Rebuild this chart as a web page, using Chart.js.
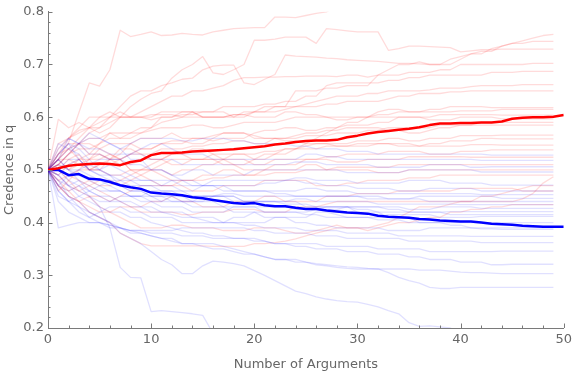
<!DOCTYPE html>
<html><head><meta charset="utf-8">
<script src="https://cdn.jsdelivr.net/npm/chart.js@4/dist/chart.umd.min.js"></script>
<style>html,body{margin:0;padding:0;background:#fff;}#wrap{width:576px;height:373px;}</style>
</head><body><div id="wrap"><canvas id="c" width="576" height="373"></canvas></div>
<script>
// ---- axis settings / tick labels ----
const xRange = [0, 50];
const yRange = [0.2, 0.8];
const xMajorTicks = [0, 10, 20, 30, 40, 50];
const yMajorTicks = ["0.2", "0.3", "0.4", "0.5", "0.6", "0.7", "0.8"];
const xTitle = "Number of Arguments";
const yTitle = "Credence in q";

// ---- mean series (x = 0..50) ----
const meanRed = [0.5,0.503,0.508,0.510,0.511,0.512,0.511,0.509,0.515,0.518,
 0.528,0.532,0.532,0.533,0.535,0.536,0.537,0.538,0.539,0.541,
 0.543,0.545,0.548,0.550,0.553,0.555,0.556,0.556,0.557,0.562,
 0.565,0.569,0.572,0.574,0.576,0.578,0.581,0.585,0.588,0.588,
 0.589,0.589,0.590,0.590,0.592,0.597,0.599,0.600,0.600,0.601,0.604];
const meanBlue = [0.5,0.5,0.490,0.492,0.483,0.482,0.477,0.471,0.467,0.464,
 0.457,0.455,0.454,0.452,0.448,0.446,0.443,0.440,0.437,0.436,
 0.437,0.433,0.431,0.431,0.428,0.426,0.426,0.423,0.421,0.419,
 0.418,0.417,0.413,0.411,0.410,0.409,0.407,0.406,0.404,0.403,
 0.402,0.402,0.400,0.398,0.397,0.396,0.394,0.393,0.392,0.392,0.392];

// ---- individual red runs (x = 0..49) ----
const red01 = [0.5,0.52,0.552,0.609,0.665,0.659,0.69,0.765,0.753,0.757,0.762,0.755,0.756,0.759,0.757,0.756,0.762,0.765,0.768,0.769,0.77,0.77,0.79,0.79,0.789,0.793,0.797,0.8,0.81,0.82,0.82,0.83,0.83,0.84,0.84,0.84,0.85,0.85,0.85,0.86,0.86,0.86,0.86,0.87,0.87,0.87,0.87,0.87,0.87,0.87];
const red02 = [0.5,0.53,0.56,0.58,0.6,0.6,0.61,0.6,0.62,0.634,0.645,0.65,0.674,0.69,0.70,0.715,0.684,0.681,0.69,0.70,0.746,0.746,0.748,0.752,0.752,0.752,0.74,0.768,0.766,0.764,0.762,0.762,0.762,0.727,0.73,0.735,0.735,0.734,0.733,0.732,0.724,0.726,0.728,0.728,0.729,0.729,0.729,0.729,0.729,0.729];
const red03 = [0.5,0.54,0.56,0.575,0.58,0.6,0.6,0.62,0.64,0.65,0.65,0.66,0.665,0.672,0.674,0.69,0.697,0.699,0.699,0.665,0.662,0.672,0.681,0.718,0.716,0.715,0.714,0.712,0.711,0.709,0.708,0.707,0.706,0.704,0.702,0.702,0.701,0.70,0.70,0.70,0.71,0.72,0.725,0.725,0.735,0.74,0.74,0.744,0.744,0.744];
const red04 = [0.5,0.51,0.53,0.55,0.57,0.58,0.59,0.6,0.6,0.61,0.62,0.63,0.64,0.64,0.65,0.65,0.655,0.66,0.67,0.675,0.675,0.676,0.676,0.677,0.677,0.678,0.678,0.678,0.677,0.68,0.68,0.676,0.68,0.69,0.70,0.70,0.705,0.70,0.70,0.71,0.715,0.72,0.72,0.73,0.735,0.74,0.745,0.75,0.755,0.757];
const red05 = [0.5,0.55,0.56,0.57,0.58,0.57,0.58,0.6,0.6,0.6,0.6,0.61,0.61,0.61,0.61,0.6,0.6,0.6,0.6,0.61,0.61,0.62,0.62,0.62,0.65,0.65,0.65,0.655,0.655,0.66,0.66,0.66,0.68,0.68,0.68,0.685,0.685,0.685,0.69,0.69,0.7,0.7,0.7,0.7,0.7,0.7,0.7,0.702,0.702,0.702];
const red06 = [0.5,0.52,0.54,0.56,0.58,0.59,0.6,0.6,0.6,0.6,0.605,0.605,0.605,0.6,0.61,0.61,0.61,0.62,0.62,0.62,0.62,0.625,0.625,0.63,0.63,0.64,0.64,0.66,0.665,0.665,0.665,0.665,0.665,0.67,0.67,0.675,0.675,0.68,0.68,0.68,0.68,0.68,0.68,0.685,0.685,0.685,0.687,0.687,0.687,0.687];
const red07 = [0.5,0.49,0.51,0.52,0.53,0.55,0.56,0.56,0.57,0.57,0.58,0.59,0.595,0.6,0.6,0.6,0.6,0.6,0.605,0.605,0.61,0.61,0.61,0.615,0.62,0.625,0.63,0.635,0.64,0.64,0.64,0.645,0.645,0.65,0.65,0.65,0.65,0.652,0.655,0.655,0.655,0.658,0.66,0.66,0.66,0.66,0.662,0.662,0.662,0.662];
const red08 = [0.5,0.53,0.55,0.55,0.56,0.56,0.57,0.57,0.57,0.58,0.58,0.6,0.6,0.605,0.605,0.61,0.61,0.61,0.6,0.6,0.61,0.61,0.62,0.62,0.62,0.62,0.62,0.625,0.625,0.63,0.63,0.63,0.63,0.635,0.64,0.64,0.645,0.645,0.645,0.648,0.648,0.65,0.65,0.65,0.65,0.65,0.65,0.65,0.65,0.65];
const red09 = [0.5,0.596,0.58,0.59,0.58,0.58,0.6,0.61,0.6,0.6,0.595,0.6,0.6,0.61,0.61,0.6,0.6,0.6,0.605,0.605,0.6,0.6,0.6,0.61,0.61,0.605,0.605,0.6,0.6,0.6,0.6,0.6,0.61,0.615,0.615,0.61,0.61,0.615,0.615,0.62,0.62,0.62,0.62,0.618,0.618,0.618,0.618,0.618,0.618,0.618];
const red10 = [0.5,0.51,0.53,0.54,0.54,0.55,0.57,0.56,0.56,0.57,0.575,0.58,0.58,0.58,0.585,0.585,0.58,0.58,0.585,0.59,0.59,0.59,0.59,0.595,0.6,0.6,0.6,0.6,0.595,0.595,0.6,0.6,0.6,0.6,0.6,0.6,0.6,0.6,0.605,0.605,0.605,0.605,0.605,0.605,0.604,0.604,0.604,0.604,0.604,0.604];
const red11 = [0.5,0.48,0.49,0.5,0.52,0.52,0.53,0.52,0.53,0.54,0.54,0.55,0.55,0.55,0.56,0.56,0.555,0.56,0.56,0.56,0.57,0.575,0.575,0.58,0.58,0.575,0.575,0.58,0.58,0.585,0.585,0.585,0.59,0.59,0.6,0.6,0.6,0.595,0.595,0.595,0.6,0.6,0.6,0.6,0.597,0.597,0.597,0.597,0.597,0.597];
const red12 = [0.5,0.52,0.5,0.51,0.52,0.53,0.52,0.53,0.55,0.56,0.56,0.56,0.57,0.56,0.56,0.56,0.565,0.57,0.57,0.57,0.565,0.56,0.56,0.56,0.565,0.57,0.57,0.575,0.575,0.58,0.58,0.58,0.58,0.575,0.575,0.57,0.57,0.575,0.58,0.58,0.585,0.585,0.59,0.59,0.59,0.59,0.59,0.59,0.59,0.59];
const red13 = [0.5,0.46,0.48,0.5,0.5,0.51,0.51,0.52,0.53,0.53,0.53,0.54,0.54,0.54,0.545,0.545,0.55,0.55,0.555,0.555,0.55,0.55,0.56,0.56,0.56,0.565,0.565,0.565,0.57,0.57,0.57,0.575,0.575,0.58,0.58,0.58,0.58,0.58,0.585,0.585,0.585,0.585,0.585,0.585,0.585,0.585,0.585,0.585,0.585,0.585];
const red14 = [0.5,0.5,0.52,0.53,0.5,0.51,0.52,0.52,0.5,0.5,0.51,0.52,0.53,0.53,0.54,0.54,0.53,0.52,0.53,0.53,0.53,0.535,0.535,0.54,0.54,0.545,0.55,0.55,0.55,0.55,0.555,0.555,0.555,0.56,0.56,0.555,0.555,0.56,0.56,0.56,0.565,0.565,0.565,0.565,0.566,0.566,0.566,0.566,0.566,0.566];
const red15 = [0.5,0.47,0.46,0.47,0.48,0.47,0.47,0.48,0.49,0.5,0.5,0.51,0.52,0.52,0.52,0.52,0.53,0.53,0.53,0.53,0.52,0.53,0.53,0.54,0.54,0.54,0.54,0.545,0.545,0.545,0.55,0.55,0.55,0.55,0.545,0.545,0.545,0.55,0.55,0.555,0.555,0.555,0.56,0.56,0.559,0.559,0.559,0.559,0.559,0.559];
const red16 = [0.5,0.51,0.5,0.52,0.52,0.54,0.55,0.55,0.55,0.54,0.54,0.55,0.555,0.555,0.55,0.55,0.56,0.57,0.57,0.57,0.56,0.56,0.56,0.555,0.555,0.55,0.55,0.55,0.545,0.545,0.545,0.545,0.55,0.55,0.55,0.55,0.545,0.545,0.545,0.545,0.545,0.548,0.548,0.548,0.547,0.547,0.547,0.547,0.547,0.547];
const red17 = [0.5,0.49,0.47,0.46,0.47,0.48,0.48,0.47,0.48,0.49,0.5,0.5,0.49,0.5,0.5,0.51,0.51,0.52,0.52,0.52,0.51,0.51,0.52,0.52,0.52,0.52,0.52,0.525,0.525,0.53,0.53,0.53,0.53,0.535,0.535,0.535,0.535,0.53,0.53,0.53,0.535,0.535,0.535,0.538,0.538,0.538,0.538,0.538,0.538,0.538];
const red18 = [0.5,0.52,0.54,0.55,0.53,0.53,0.52,0.51,0.51,0.52,0.52,0.52,0.53,0.53,0.52,0.52,0.52,0.51,0.51,0.5,0.5,0.5,0.51,0.51,0.51,0.52,0.52,0.52,0.515,0.515,0.515,0.52,0.52,0.52,0.52,0.525,0.525,0.525,0.525,0.525,0.525,0.524,0.524,0.524,0.524,0.524,0.524,0.524,0.524,0.524];
const red19 = [0.5,0.5,0.48,0.46,0.45,0.45,0.44,0.45,0.46,0.47,0.47,0.47,0.47,0.48,0.48,0.48,0.485,0.485,0.49,0.49,0.49,0.49,0.495,0.495,0.495,0.5,0.5,0.5,0.505,0.505,0.505,0.505,0.505,0.505,0.51,0.51,0.51,0.51,0.51,0.51,0.51,0.51,0.51,0.51,0.51,0.51,0.51,0.51,0.51,0.51];
const red20 = [0.5,0.47,0.45,0.44,0.43,0.42,0.42,0.43,0.43,0.42,0.42,0.42,0.42,0.415,0.415,0.42,0.42,0.42,0.425,0.425,0.425,0.42,0.42,0.42,0.43,0.43,0.43,0.435,0.44,0.44,0.44,0.44,0.44,0.44,0.44,0.44,0.44,0.44,0.44,0.44,0.44,0.44,0.44,0.44,0.44,0.44,0.445,0.455,0.475,0.487];
const red21 = [0.5,0.53,0.54,0.52,0.5,0.5,0.49,0.49,0.5,0.5,0.5,0.49,0.48,0.48,0.48,0.49,0.49,0.5,0.5,0.49,0.49,0.5,0.5,0.5,0.5,0.51,0.51,0.5,0.5,0.5,0.5,0.5,0.495,0.495,0.495,0.5,0.5,0.5,0.5,0.5,0.5,0.5,0.5,0.5,0.5,0.5,0.5,0.5,0.5,0.5];
const red22 = [0.5,0.48,0.46,0.44,0.42,0.41,0.4,0.38,0.37,0.36,0.356,0.356,0.356,0.356,0.356,0.356,0.355,0.355,0.355,0.355,0.36,0.36,0.362,0.365,0.369,0.375,0.38,0.385,0.39,0.39,0.39,0.39,0.395,0.4,0.41,0.42,0.43,0.43,0.43,0.435,0.44,0.44,0.45,0.45,0.455,0.46,0.465,0.47,0.47,0.47];
const red23 = [0.5,0.47,0.45,0.44,0.45,0.43,0.42,0.41,0.4,0.39,0.39,0.39,0.395,0.395,0.39,0.39,0.39,0.385,0.385,0.385,0.39,0.39,0.39,0.385,0.38,0.38,0.385,0.39,0.395,0.39,0.39,0.385,0.39,0.395,0.4,0.4,0.405,0.41,0.41,0.42,0.42,0.425,0.425,0.43,0.43,0.434,0.434,0.434,0.434,0.434];
const red24 = [0.5,0.5,0.49,0.48,0.47,0.46,0.45,0.44,0.43,0.43,0.44,0.44,0.45,0.44,0.44,0.43,0.43,0.43,0.44,0.44,0.44,0.45,0.45,0.44,0.44,0.44,0.44,0.45,0.45,0.45,0.455,0.455,0.455,0.455,0.46,0.46,0.46,0.46,0.46,0.46,0.465,0.465,0.465,0.465,0.465,0.465,0.46,0.46,0.46,0.46];
const red25 = [0.5,0.51,0.53,0.55,0.55,0.54,0.53,0.52,0.5,0.49,0.48,0.47,0.47,0.47,0.46,0.46,0.46,0.47,0.47,0.47,0.47,0.48,0.48,0.48,0.48,0.48,0.47,0.47,0.47,0.475,0.475,0.48,0.48,0.48,0.48,0.485,0.485,0.485,0.49,0.49,0.49,0.49,0.49,0.49,0.49,0.49,0.49,0.49,0.49,0.49];
const red26 = [0.5,0.52,0.52,0.51,0.5,0.5,0.52,0.54,0.54,0.53,0.52,0.52,0.51,0.51,0.52,0.52,0.52,0.52,0.51,0.51,0.52,0.52,0.53,0.53,0.54,0.55,0.56,0.57,0.58,0.59,0.59,0.6,0.605,0.605,0.61,0.61,0.61,0.61,0.61,0.61,0.612,0.612,0.612,0.612,0.615,0.615,0.615,0.615,0.615,0.615];

// ---- individual blue runs (x = 0..49) ----
const blue01 = [0.5,0.39,0.395,0.4,0.4,0.4,0.395,0.39,0.385,0.385,0.385,0.385,0.385,0.39,0.39,0.39,0.39,0.39,0.39,0.39,0.385,0.385,0.38,0.38,0.38,0.38,0.375,0.375,0.375,0.37,0.37,0.37,0.37,0.37,0.37,0.365,0.365,0.365,0.365,0.365,0.365,0.365,0.362,0.362,0.362,0.362,0.362,0.362,0.362,0.362];
const blue02 = [0.5,0.48,0.47,0.46,0.45,0.43,0.39,0.315,0.296,0.295,0.231,0.233,0.231,0.229,0.227,0.224,0.19,0.18,0.18,0.17,0.17,0.17,0.16,0.16,0.16,0.15,0.15,0.15,0.15,0.15,0.15,0.14,0.14,0.14,0.14,0.14,0.14,0.14,0.14,0.14,0.13,0.13,0.13,0.13,0.13,0.13,0.13,0.13,0.13,0.13];
const blue03 = [0.5,0.47,0.45,0.44,0.42,0.41,0.4,0.38,0.37,0.36,0.345,0.33,0.32,0.303,0.303,0.318,0.327,0.325,0.322,0.318,0.309,0.3,0.29,0.28,0.27,0.265,0.259,0.255,0.252,0.25,0.249,0.245,0.24,0.233,0.227,0.21,0.203,0.204,0.202,0.2,0.19,0.18,0.18,0.17,0.17,0.17,0.16,0.16,0.16,0.16];
const blue04 = [0.5,0.46,0.44,0.43,0.42,0.41,0.4,0.39,0.38,0.38,0.375,0.37,0.37,0.36,0.36,0.355,0.35,0.35,0.345,0.34,0.34,0.335,0.33,0.33,0.325,0.325,0.32,0.318,0.315,0.313,0.312,0.312,0.312,0.305,0.296,0.29,0.285,0.277,0.275,0.275,0.277,0.277,0.277,0.277,0.277,0.277,0.277,0.277,0.277,0.277];
const blue05 = [0.5,0.48,0.45,0.43,0.41,0.4,0.395,0.39,0.385,0.38,0.375,0.37,0.365,0.36,0.36,0.36,0.36,0.355,0.35,0.345,0.34,0.335,0.33,0.33,0.33,0.325,0.322,0.32,0.318,0.316,0.315,0.313,0.312,0.312,0.312,0.312,0.31,0.31,0.31,0.308,0.306,0.305,0.305,0.304,0.303,0.303,0.303,0.303,0.303,0.303];
const blue06 = [0.5,0.49,0.47,0.45,0.44,0.43,0.42,0.42,0.41,0.41,0.4,0.395,0.39,0.385,0.38,0.38,0.375,0.375,0.37,0.37,0.37,0.365,0.36,0.36,0.355,0.355,0.35,0.35,0.35,0.345,0.345,0.345,0.34,0.34,0.34,0.335,0.335,0.33,0.33,0.33,0.325,0.325,0.325,0.32,0.32,0.321,0.321,0.321,0.321,0.321];
const blue07 = [0.5,0.44,0.42,0.41,0.40,0.40,0.39,0.39,0.385,0.385,0.38,0.38,0.38,0.375,0.375,0.375,0.37,0.37,0.37,0.37,0.365,0.365,0.36,0.36,0.36,0.36,0.36,0.355,0.355,0.355,0.355,0.355,0.35,0.35,0.35,0.35,0.35,0.345,0.345,0.345,0.345,0.345,0.345,0.345,0.346,0.346,0.346,0.346,0.346,0.346];
const blue08 = [0.5,0.52,0.5,0.48,0.46,0.45,0.44,0.44,0.43,0.43,0.42,0.42,0.415,0.41,0.41,0.405,0.4,0.4,0.4,0.395,0.395,0.39,0.39,0.39,0.39,0.385,0.385,0.385,0.385,0.38,0.38,0.38,0.38,0.38,0.375,0.375,0.375,0.375,0.375,0.375,0.375,0.374,0.374,0.374,0.374,0.374,0.374,0.374,0.374,0.374];
const blue09 = [0.5,0.47,0.46,0.47,0.46,0.45,0.45,0.44,0.44,0.43,0.43,0.42,0.42,0.42,0.41,0.41,0.41,0.4,0.4,0.4,0.4,0.4,0.41,0.41,0.4,0.4,0.395,0.395,0.39,0.39,0.39,0.39,0.39,0.385,0.385,0.385,0.385,0.39,0.39,0.39,0.39,0.39,0.388,0.388,0.387,0.387,0.387,0.387,0.387,0.387];
const blue10 = [0.5,0.53,0.55,0.54,0.52,0.5,0.49,0.47,0.46,0.46,0.45,0.45,0.44,0.44,0.43,0.43,0.43,0.43,0.42,0.42,0.42,0.41,0.41,0.41,0.41,0.41,0.42,0.42,0.415,0.41,0.41,0.41,0.405,0.405,0.405,0.4,0.4,0.4,0.4,0.4,0.4,0.4,0.4,0.4,0.4,0.4,0.4,0.4,0.4,0.4];
const blue11 = [0.5,0.5,0.48,0.47,0.45,0.44,0.44,0.45,0.45,0.44,0.44,0.43,0.43,0.43,0.42,0.42,0.42,0.42,0.43,0.43,0.43,0.42,0.42,0.42,0.42,0.415,0.415,0.41,0.41,0.41,0.41,0.41,0.41,0.415,0.415,0.415,0.415,0.415,0.41,0.41,0.41,0.41,0.412,0.412,0.412,0.412,0.412,0.412,0.412,0.412];
const blue12 = [0.5,0.51,0.5,0.49,0.48,0.47,0.46,0.46,0.45,0.45,0.44,0.44,0.45,0.45,0.44,0.44,0.44,0.43,0.43,0.43,0.43,0.43,0.43,0.43,0.425,0.425,0.425,0.43,0.43,0.43,0.425,0.425,0.42,0.42,0.42,0.42,0.42,0.42,0.42,0.421,0.421,0.421,0.421,0.421,0.421,0.421,0.421,0.421,0.421,0.421];
const blue13 = [0.5,0.46,0.44,0.45,0.46,0.47,0.48,0.47,0.46,0.46,0.45,0.45,0.45,0.44,0.44,0.44,0.45,0.45,0.44,0.44,0.44,0.44,0.44,0.435,0.435,0.435,0.43,0.43,0.43,0.43,0.43,0.43,0.43,0.43,0.43,0.425,0.425,0.425,0.43,0.43,0.43,0.43,0.427,0.427,0.427,0.427,0.427,0.427,0.427,0.427];
const blue14 = [0.5,0.55,0.54,0.53,0.51,0.5,0.49,0.48,0.48,0.47,0.47,0.46,0.46,0.46,0.45,0.45,0.45,0.45,0.45,0.44,0.44,0.44,0.44,0.44,0.445,0.445,0.44,0.44,0.44,0.44,0.44,0.44,0.435,0.435,0.435,0.435,0.435,0.435,0.435,0.435,0.434,0.434,0.434,0.434,0.434,0.434,0.434,0.434,0.434,0.434];
const blue15 = [0.5,0.52,0.54,0.55,0.56,0.56,0.55,0.54,0.52,0.52,0.5,0.5,0.49,0.48,0.48,0.47,0.47,0.46,0.46,0.46,0.46,0.46,0.455,0.455,0.45,0.45,0.45,0.45,0.45,0.45,0.45,0.445,0.445,0.445,0.445,0.445,0.445,0.44,0.44,0.44,0.44,0.44,0.44,0.44,0.44,0.44,0.44,0.44,0.44,0.44];
const blue16 = [0.5,0.47,0.49,0.5,0.49,0.48,0.47,0.46,0.45,0.45,0.46,0.46,0.46,0.45,0.45,0.45,0.45,0.455,0.455,0.45,0.45,0.45,0.45,0.45,0.45,0.45,0.45,0.45,0.45,0.45,0.45,0.45,0.45,0.445,0.445,0.445,0.45,0.45,0.45,0.45,0.45,0.45,0.45,0.45,0.446,0.446,0.446,0.446,0.446,0.446];
const blue17 = [0.5,0.49,0.51,0.52,0.5,0.49,0.48,0.48,0.47,0.47,0.47,0.47,0.47,0.46,0.46,0.47,0.47,0.47,0.46,0.46,0.46,0.46,0.46,0.46,0.46,0.465,0.465,0.46,0.46,0.46,0.455,0.455,0.455,0.455,0.455,0.455,0.455,0.455,0.455,0.455,0.455,0.455,0.453,0.453,0.453,0.453,0.453,0.453,0.453,0.453];
const blue18 = [0.5,0.53,0.55,0.52,0.5,0.5,0.51,0.5,0.49,0.48,0.48,0.47,0.48,0.48,0.47,0.47,0.47,0.47,0.47,0.47,0.47,0.475,0.475,0.48,0.48,0.475,0.475,0.47,0.47,0.47,0.465,0.465,0.465,0.465,0.46,0.46,0.46,0.465,0.465,0.465,0.465,0.465,0.46,0.46,0.46,0.46,0.46,0.46,0.46,0.46];
const blue19 = [0.5,0.5,0.52,0.52,0.5,0.49,0.49,0.49,0.48,0.48,0.48,0.48,0.48,0.47,0.47,0.47,0.48,0.48,0.48,0.48,0.48,0.48,0.48,0.48,0.485,0.485,0.48,0.48,0.48,0.48,0.475,0.475,0.475,0.475,0.475,0.48,0.48,0.48,0.48,0.475,0.475,0.475,0.475,0.471,0.471,0.471,0.471,0.471,0.471,0.471];
const blue20 = [0.5,0.52,0.56,0.55,0.53,0.53,0.52,0.52,0.51,0.51,0.5,0.5,0.49,0.49,0.5,0.5,0.49,0.49,0.49,0.49,0.5,0.5,0.5,0.5,0.5,0.5,0.5,0.5,0.5,0.495,0.495,0.495,0.495,0.495,0.495,0.5,0.5,0.5,0.5,0.5,0.5,0.5,0.496,0.496,0.496,0.496,0.496,0.496,0.496,0.496];
const blue21 = [0.5,0.52,0.5,0.5,0.51,0.52,0.52,0.52,0.53,0.53,0.52,0.52,0.52,0.51,0.51,0.51,0.51,0.51,0.51,0.51,0.51,0.51,0.51,0.51,0.515,0.515,0.515,0.51,0.51,0.51,0.51,0.51,0.505,0.505,0.505,0.505,0.505,0.51,0.51,0.51,0.51,0.505,0.505,0.506,0.506,0.506,0.506,0.506,0.506,0.506];
const blue22 = [0.5,0.54,0.56,0.55,0.54,0.54,0.53,0.53,0.53,0.54,0.55,0.55,0.54,0.53,0.53,0.53,0.52,0.52,0.52,0.52,0.52,0.52,0.52,0.52,0.52,0.53,0.53,0.525,0.525,0.52,0.52,0.52,0.52,0.52,0.52,0.52,0.52,0.52,0.52,0.52,0.52,0.52,0.518,0.518,0.518,0.518,0.518,0.518,0.518,0.518];
const blue23 = [0.5,0.51,0.53,0.55,0.57,0.56,0.55,0.54,0.55,0.56,0.56,0.56,0.56,0.555,0.555,0.56,0.56,0.56,0.555,0.555,0.55,0.55,0.55,0.55,0.545,0.545,0.54,0.54,0.54,0.535,0.535,0.535,0.53,0.53,0.53,0.53,0.53,0.53,0.53,0.53,0.53,0.53,0.53,0.528,0.528,0.528,0.528,0.528,0.528,0.528];
const blue24 = [0.5,0.49,0.47,0.48,0.47,0.46,0.46,0.46,0.45,0.45,0.45,0.44,0.44,0.44,0.44,0.45,0.45,0.45,0.45,0.44,0.44,0.44,0.44,0.44,0.44,0.43,0.43,0.43,0.43,0.43,0.42,0.42,0.42,0.41,0.41,0.41,0.4,0.4,0.4,0.395,0.395,0.39,0.39,0.39,0.39,0.39,0.39,0.39,0.39,0.39];
const blue25 = [0.5,0.45,0.44,0.42,0.41,0.42,0.43,0.43,0.42,0.42,0.41,0.41,0.41,0.4,0.4,0.4,0.4,0.4,0.41,0.41,0.42,0.42,0.42,0.42,0.42,0.42,0.425,0.425,0.425,0.43,0.43,0.43,0.43,0.425,0.425,0.42,0.42,0.42,0.42,0.415,0.415,0.415,0.415,0.415,0.415,0.415,0.415,0.415,0.415,0.415];

const redRuns = [red01,red02,red03,red04,red05,red06,red07,red08,red09,red10,red11,red12,red13,
  red14,red15,red16,red17,red18,red19,red20,red21,red22,red23,red24,red25,red26];
const blueRuns = [blue01,blue02,blue03,blue04,blue05,blue06,blue07,blue08,blue09,blue10,blue11,blue12,blue13,
  blue14,blue15,blue16,blue17,blue18,blue19,blue20,blue21,blue22,blue23,blue24,blue25];

// ---- styles ----
const AXIS_COLOR = '#7a7a7a';
const TEXT_COLOR = '#666666';
const FONT = 'DejaVu Sans';

const toXY = arr => arr.map((v, i) => ({x: i, y: v}));
const datasets = [];
datasets.push({data: toXY(meanRed), borderColor: '#ff0000', borderWidth: 2.5, order: 0});
datasets.push({data: toXY(meanBlue), borderColor: '#0000ff', borderWidth: 2.5, order: 0});
redRuns.forEach(r => datasets.push({data: toXY(r), borderColor: 'rgba(255,0,0,0.14)', borderWidth: 1.3, order: 2}));
blueRuns.forEach(r => datasets.push({data: toXY(r), borderColor: 'rgba(0,0,255,0.12)', borderWidth: 1.3, order: 1}));
datasets.forEach(d => { d.pointRadius = 0; d.tension = 0; d.fill = false; d.clip = 0; d.borderJoinStyle = 'round'; });

const inwardTicks = {
  id: 'inwardTicks',
  afterDraw(chart) {
    const {ctx, chartArea: a, scales: {x, y}} = chart;
    ctx.save();
    ctx.strokeStyle = AXIS_COLOR;
    ctx.lineWidth = 1;
    x.ticks.forEach(t => {
      const px = Math.round(x.getPixelForValue(t.value)) + 0.5;
      const len = t.label ? 4.5 : 2.5;
      ctx.beginPath(); ctx.moveTo(px, a.bottom); ctx.lineTo(px, a.bottom - len); ctx.stroke();
    });
    y.ticks.forEach(t => {
      const py = Math.round(y.getPixelForValue(t.value)) + 0.5;
      const len = t.label ? 4.5 : 2.5;
      ctx.beginPath(); ctx.moveTo(a.left, py); ctx.lineTo(a.left + len, py); ctx.stroke();
    });
    ctx.restore();
  }
};

new Chart(document.getElementById('c'), {
  type: 'line',
  data: {datasets},
  options: {
    responsive: false,
    animation: false,
    devicePixelRatio: 1,
    layout: {padding: {top: 8, right: 10, left: 0, bottom: 0}},
    plugins: {legend: {display: false}, tooltip: {enabled: false}},
    scales: {
      x: {
        type: 'linear', min: xRange[0], max: xRange[1],
        afterFit: s => { s.height = 45; },
        grid: {display: false, drawTicks: false},
        border: {display: true, color: AXIS_COLOR, width: 1},
        ticks: {
          stepSize: 2, autoSkip: false, maxRotation: 0, padding: 4,
          color: TEXT_COLOR, font: {family: FONT, size: 13},
          callback: v => (xMajorTicks.includes(v) ? String(v) : '')
        },
        title: {display: true, text: xTitle, color: TEXT_COLOR, font: {family: FONT, size: 13}, padding: {top: 0, bottom: 1}}
      },
      y: {
        type: 'linear', min: yRange[0], max: yRange[1],
        afterFit: s => { s.width = 48; },
        grid: {display: false, drawTicks: false},
        border: {display: true, color: AXIS_COLOR, width: 1},
        ticks: {
          stepSize: 0.02, autoSkip: false, padding: 4,
          color: TEXT_COLOR, font: {family: FONT, size: 13},
          callback: v => { const s = (Math.round(v * 100) / 100).toFixed(2); return s.endsWith('0') && yMajorTicks.includes(s.slice(0, 3)) ? s.slice(0, 3) : ''; }
        },
        title: {display: true, text: yTitle, color: TEXT_COLOR, font: {family: FONT, size: 13}, padding: {top: 2, bottom: 0}}
      }
    }
  },
  plugins: [inwardTicks]
});
</script>
</body></html>
